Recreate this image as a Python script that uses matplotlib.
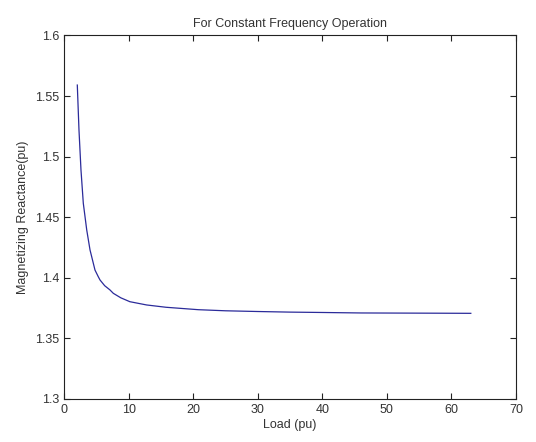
import matplotlib.pyplot as plt

# Load (pu) vs magnetizing reactance (pu)
load = [2.06, 2.32, 2.63, 2.99, 3.52, 4.03, 4.29, 4.80, 5.31, 5.58, 6.3, 7.12,
        7.64, 8.8, 10.2, 12.8, 15.8, 20.8, 25.0, 30.0, 35.0, 40.0, 46.0, 52.0,
        58.0, 63.0]
xm = [1.5591, 1.5220, 1.4890, 1.4615, 1.4395, 1.4230, 1.4174, 1.4064, 1.4009,
      1.3982, 1.3935, 1.3900, 1.3872, 1.3835, 1.3803, 1.3776, 1.3757, 1.3737,
      1.3728, 1.3722, 1.3717, 1.3714, 1.3710, 1.3709, 1.3708, 1.3707]

xticks = [0, 10, 20, 30, 40, 50, 60, 70]
yticks = [1.3, 1.35, 1.4, 1.45, 1.5, 1.55, 1.6]
ytick_labels = ['1.3', '1.35', '1.4', '1.45', '1.5', '1.55', '1.6']

plt.rcParams['font.family'] = ['Liberation Sans', 'DejaVu Sans']

fig = plt.figure(figsize=(5.36, 4.42), dpi=100)
ax = fig.add_axes([0.1194, 0.0973, 0.8433, 0.8224])

ax.plot(load, xm, '-', color='#2b2b9a', linewidth=0.9)

ax.set_xlim(0, 70)
ax.set_ylim(1.3, 1.6)
ax.set_xticks(xticks)
ax.set_yticks(yticks)
ax.set_yticklabels(ytick_labels)
ax.tick_params(direction='in', top=True, right=True, labelsize=9, length=4,
               width=0.8, colors='#222222', labelcolor='#333333')
for s in ax.spines.values():
    s.set_linewidth(0.8)
    s.set_color('#222222')

ax.set_xlabel("Load (pu)", fontsize=9, color='#333333', labelpad=2)
ax.set_ylabel("Magnetizing Reactance(pu)", fontsize=9, color='#333333', labelpad=4)
ax.set_title("For Constant Frequency Operation", fontsize=9, color='#333333', pad=6)

fig.savefig('out.png', dpi=100)
